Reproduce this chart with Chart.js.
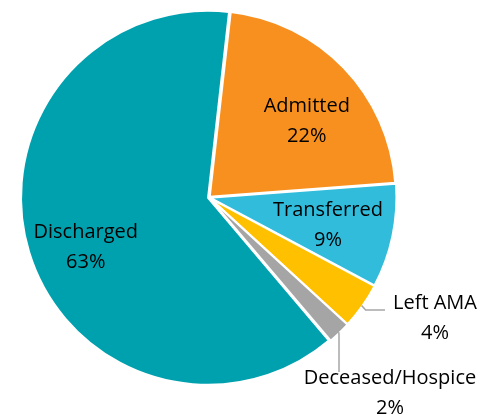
<!DOCTYPE html>
<html>
<head>
<meta charset="utf-8">
<script src="https://cdn.jsdelivr.net/npm/chart.js@4"></script>
<style>
  body { margin: 0; background: #fff; }
  canvas { display: block; }
</style>
</head>
<body>
<canvas id="pieChart" width="484" height="415"></canvas>
<script>
// Data dari grafik
const categories = ['Admitted', 'Transferred', 'Left AMA', 'Deceased/Hospice', 'Discharged'];
const percentages = [22, 9, 4, 2, 63];
const sliceColors = ['#F7901E', '#31BCDC', '#FFC000', '#A5A5A5', '#00A1AF'];

// Geser label di dalam irisan (mirip penempatan Excel)
const insideNudge = {
  'Admitted': [8, 10],
  'Transferred': [-3, 2],
  'Discharged': [-4, 14]
};

// Label di luar irisan (posisi teks + ujung garis penunjuk)
const outsideLabels = {
  'Left AMA': { tx: 435, ty: 303, lx: 385, ly: 310, vertical: false },
  'Deceased/Hospice': { tx: 390, ty: 378, lx: 339, ly: 372, vertical: true }
};

const FONT = '20px "Open Sans", sans-serif';

const labelPlugin = {
  id: 'sliceLabels',
  afterDatasetsDraw(chart) {
    const ctx = chart.ctx;
    const meta = chart.getDatasetMeta(0);
    ctx.save();
    ctx.font = FONT;
    ctx.fillStyle = '#000';
    ctx.textAlign = 'center';
    ctx.textBaseline = 'middle';
    meta.data.forEach((arc, i) => {
      const p = arc.getProps(['x', 'y', 'startAngle', 'endAngle', 'outerRadius'], true);
      const mid = (p.startAngle + p.endAngle) / 2;
      const name = categories[i];
      const pct = percentages[i] + '%';
      const out = outsideLabels[name];
      if (!out) {
        const r = p.outerRadius * 0.67;
        const n = insideNudge[name] || [0, 0];
        const x = p.x + Math.cos(mid) * r + n[0];
        const y = p.y + Math.sin(mid) * r + n[1];
        ctx.fillText(name, x, y - 15);
        ctx.fillText(pct, x, y + 15);
      } else {
        const sx = p.x + Math.cos(mid) * (p.outerRadius + 1);
        const sy = p.y + Math.sin(mid) * (p.outerRadius + 1);
        ctx.strokeStyle = '#A6A6A6';
        ctx.lineWidth = 1.5;
        ctx.beginPath();
        ctx.moveTo(sx, sy);
        if (out.vertical) {
          ctx.lineTo(out.lx, sy + 2);
        } else {
          ctx.lineTo(sx + 4, out.ly);
        }
        ctx.lineTo(out.lx, out.ly);
        ctx.stroke();
        ctx.fillText(name, out.tx, out.ty);
        ctx.fillText(pct, out.tx, out.ty + 30);
      }
    });
    ctx.restore();
  }
};

const ctx = document.getElementById('pieChart').getContext('2d');
const pieChart = new Chart(ctx, {
  type: 'pie',
  data: {
    labels: categories,
    datasets: [{
      data: percentages,
      backgroundColor: sliceColors,
      borderColor: '#fff',
      borderWidth: 2,
      offset: 4,
      hoverOffset: 0
    }]
  },
  options: {
    responsive: false,
    animation: false,
    rotation: 6.5,
    layout: { padding: { left: 20, top: 8, right: 86, bottom: 28 } },
    plugins: {
      legend: { display: false },
      tooltip: { enabled: false }
    }
  },
  plugins: [labelPlugin]
});
</script>
</body>
</html>
